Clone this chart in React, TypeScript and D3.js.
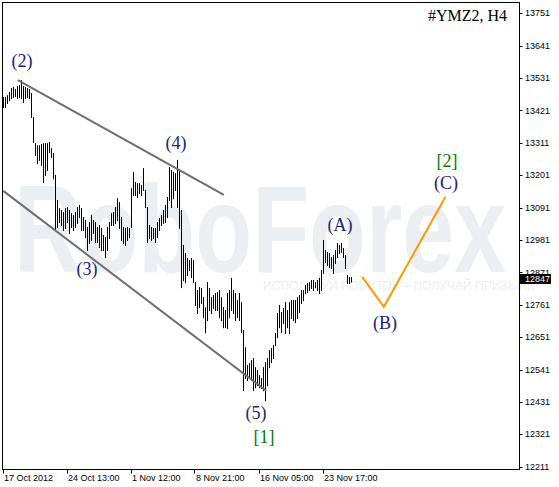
import React from "react";
import * as d3 from "d3";

// H4 bars (high / low) of #YMZ2, 17 Oct 2012 .. 26 Nov 2012
const highs = [
  13467, 13467, 13473, 13484, 13497, 13501, 13494, 13504, 13507, 13524,
  13504, 13501, 13497, 13494, 13480, 13399, 13310, 13303, 13303, 13307,
  13310, 13310, 13310, 13314, 13293, 13276, 13202, 13117, 13089, 13083,
  13076, 13089, 13093, 13083, 13072, 13066, 13076, 13093, 13100, 13089,
  13059, 13049, 13025, 13042, 13066, 13049, 13042, 13025, 13032, 13022,
  12998, 12991, 13025, 13042, 13072, 13076, 13093, 13123, 13110, 13059,
  13025, 13022, 13025, 13022, 13157, 13212, 13178, 13174, 13174, 13168,
  13225, 13151, 13093, 13032, 13025, 13022, 13022, 13042, 13055, 13066,
  13083, 13100, 13127, 13229, 13219, 13212, 13208, 13253, 13219, 13083,
  12964, 12937, 12920, 12913, 12920, 12913, 12838, 12811, 12821, 12818,
  12787, 12753, 12838, 12818, 12787, 12794, 12801, 12804, 12811, 12787,
  12753, 12743, 12801, 12811, 12852, 12811, 12801, 12777, 12801, 12770,
  12675, 12617, 12556, 12563, 12573, 12580, 12549, 12539, 12522, 12512,
  12549, 12566, 12580, 12607, 12614, 12624, 12665, 12733, 12760, 12736,
  12750, 12770, 12743, 12770, 12777, 12777, 12777, 12787, 12794, 12811,
  12811, 12828, 12835, 12838, 12845, 12845, 12838, 12845, 12852, 12879,
  12981, 12947, 12940, 12937, 12923, 12930, 12947, 12971, 12964, 12971,
  12954, 12930, 12862, 12855, 12855,
];
const lows = [
  13433, 13433, 13446, 13456, 13463, 13467, 13470, 13463, 13467, 13463,
  13450, 13463, 13467, 13463, 13399, 13314, 13270, 13242, 13253, 13236,
  13178, 13202, 13219, 13280, 13263, 13191, 13015, 13025, 13042, 13032,
  13015, 13022, 13042, 13005, 13025, 13015, 13025, 13039, 13059, 13015,
  13015, 12991, 12947, 12971, 12981, 13005, 12974, 12974, 12957, 12947,
  12947, 12923, 12947, 12988, 13032, 13032, 13039, 13049, 13022, 12981,
  12971, 12964, 12981, 12991, 13025, 13134, 13134, 13127, 13140, 13134,
  13151, 13093, 12974, 12988, 12981, 12988, 12974, 12991, 13015, 13032,
  13039, 13042, 13059, 13117, 13093, 13123, 13151, 13093, 13022, 12821,
  12845, 12838, 12862, 12879, 12855, 12838, 12760, 12733, 12753, 12767,
  12719, 12668, 12709, 12743, 12733, 12750, 12743, 12743, 12719, 12709,
  12685, 12685, 12682, 12719, 12743, 12733, 12709, 12719, 12709, 12668,
  12471, 12512, 12505, 12515, 12505, 12471, 12481, 12488, 12481, 12478,
  12471, 12437, 12488, 12549, 12566, 12580, 12624, 12651, 12685, 12668,
  12699, 12665, 12685, 12665, 12716, 12709, 12702, 12716, 12736, 12767,
  12777, 12801, 12804, 12811, 12818, 12811, 12821, 12811, 12801, 12811,
  12869, 12906, 12896, 12889, 12886, 12869, 12903, 12923, 12937, 12940,
  12923, 12886, 12835, 12835, 12840,
];
const lastPrice = 12847;

const yTicks = [13751, 13641, 13531, 13421, 13311, 13201, 13091, 12981, 12871, 12761, 12651, 12541, 12431, 12321, 12211];
const xTickLabels = ["17 Oct 2012", "24 Oct 13:00", "1 Nov 12:00", "8 Nov 21:00", "16 Nov 05:00", "23 Nov 17:00"];
const xTickBars = [0, 32, 64, 96, 128, 160];

// channel & projection, in (bar index, price)
const upperChannel: [number, number][] = [[7.15, 13524], [110.15, 13134]];
const lowerChannel: [number, number][] = [[-0.15, 13148], [131.35, 12469]];
const projection: [number, number][] = [[179.35, 12856], [190.15, 12754], [221, 13128]];

const waveLabels = ["(2)", "(3)", "(4)", "(5)", "[1]", "(A)", "(B)", "(C)", "[2]"];
const waveBars = [9.25, 41.75, 86.25, 126.25, 130.25, 168.25, 190.75, 221.25, 221.75];
const wavePrices = [13568, 12862, 13290, 12373, 12292, 13012, 12679, 13154, 13229];
const waveKinds = ["minor", "minor", "minor", "minor", "major", "minor", "minor", "minor", "major"];

const W = 559;
const H = 487;

export default function App() {
  const left = 2.5, right = 519.5, top = 2.5, bottom = 469.5;
  const x = d3.scaleLinear().domain([0, 174]).range([3.5, 351.5]);
  const y = d3.scaleLinear().domain([12211, 13751]).range([466.7, 13.3]);
  const line = d3.line<[number, number]>().x((d) => x(d[0])).y((d) => y(d[1]));

  const sans = "'Liberation Sans', Arial, sans-serif";
  const serif = "'Liberation Serif', 'Times New Roman', serif";

  return (
    <svg
      width={W}
      height={H}
      style={{ position: "absolute", left: 0, top: 0, background: "#fff" }}
    >
      <rect x={0} y={0} width={W} height={H} fill="#fff" />
      <defs>
        <clipPath id="plot">
          <rect x={left} y={top} width={right - left} height={bottom - top} />
        </clipPath>
      </defs>

      {/* watermark */}
      <g fill="#EBEEF3">
        <text
          x={14}
          y={272}
          fontFamily={sans}
          fontSize={124}
          fontWeight="bold"
          textLength={492}
          lengthAdjust="spacingAndGlyphs"
        >
          RoboForex
        </text>
        <text
          x={263}
          y={290}
          fontFamily={sans}
          fontSize={13}
          textLength={272}
          lengthAdjust="spacingAndGlyphs"
        >
          ИСПОЛЬЗУЙ РОБОТОВ – ПОЛУЧАЙ ПРИБЫЛЬ
        </text>
      </g>

      <g clipPath="url(#plot)">
        {/* bars */}
        {highs.map((h, i) => (
          <line
            key={i}
            x1={x(i)}
            x2={x(i)}
            y1={y(h)}
            y2={y(lows[i]) + 1}
            stroke="#000"
            strokeWidth={1}
          />
        ))}
        {/* channel lines */}
        <path d={line(upperChannel) || ""} stroke="#6E6E6E" strokeWidth={2} fill="none" />
        <path d={line(lowerChannel) || ""} stroke="#6E6E6E" strokeWidth={2} fill="none" />
        {/* projection */}
        <path d={line(projection) || ""} stroke="#FF9900" strokeWidth={2} fill="none" />
      </g>

      {/* wave labels */}
      {waveLabels.map((t, i) => (
        <text
          key={t}
          x={x(waveBars[i])}
          y={y(wavePrices[i])}
          textAnchor="middle"
          fontFamily={serif}
          fontSize={18}
          fill={waveKinds[i] === "major" ? "#008000" : "#1A237E"}
        >
          {t}
        </text>
      ))}

      {/* title */}
      <text x={507} y={21} textAnchor="end" fontFamily={serif} fontSize={16} fill="#000">
        #YMZ2, H4
      </text>

      {/* frame */}
      <rect x={left} y={top} width={right - left} height={bottom - top} fill="none" stroke="#000" strokeWidth={1} />

      {/* y axis */}
      {yTicks.map((v) => (
        <g key={v}>
          <line x1={right} x2={right + 3} y1={Math.round(y(v)) + 0.5} y2={Math.round(y(v)) + 0.5} stroke="#000" />
          <text x={525} y={y(v)} dy="0.35em" fontFamily={sans} fontSize={9} fill="#000">
            {v}
          </text>
        </g>
      ))}
      {/* current price */}
      <rect x={520} y={y(lastPrice) - 5.5} width={31} height={10} fill="#000" />
      <text x={525} y={y(lastPrice) - 0.5} dy="0.35em" fontFamily={sans} fontSize={9} fill="#fff">
        {lastPrice}
      </text>

      {/* x axis */}
      {xTickLabels.map((t, i) => (
        <g key={t}>
          <line x1={Math.round(x(xTickBars[i])) - 0.5} x2={Math.round(x(xTickBars[i])) - 0.5} y1={bottom} y2={bottom + 4} stroke="#000" />
          <text x={x(xTickBars[i]) + 0.5} y={481} fontFamily={sans} fontSize={9} fill="#000">
            {t}
          </text>
        </g>
      ))}
    </svg>
  );
}
